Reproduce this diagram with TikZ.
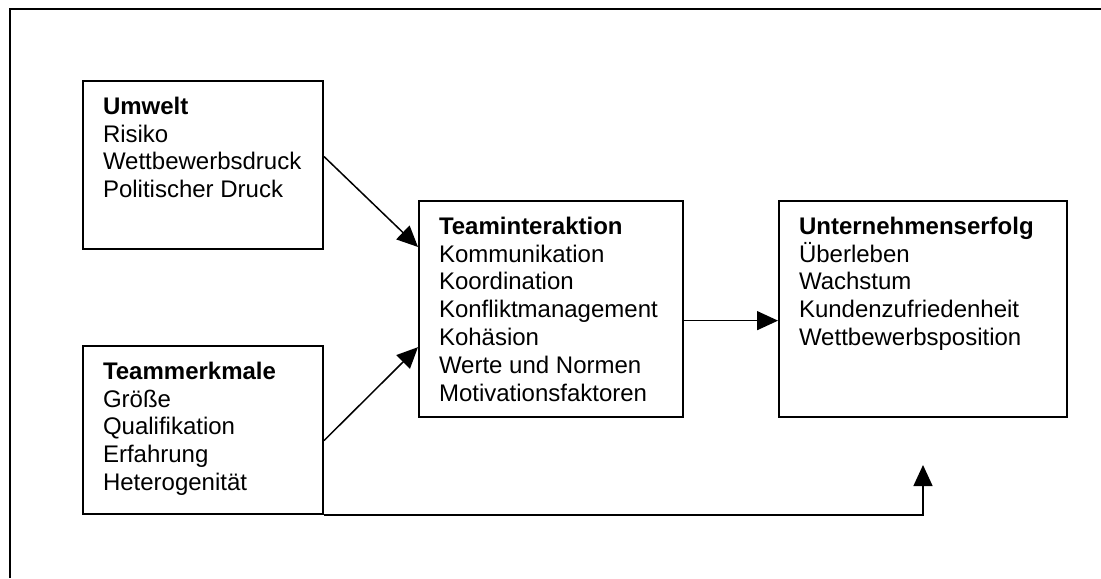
\documentclass[tikz,border=0pt]{standalone}
\usepackage{fontspec}
\setmainfont{Liberation Sans}
\usetikzlibrary{arrows.meta}

\newcommand{\feldinhalt}[3]{\parbox[t][#2][t]{#1}{\raggedright\hyphenpenalty=10000 #3}}

\tikzset{
  feld/.style={draw, line width=1pt, anchor=north west, inner xsep=10pt, inner ysep=8pt,
    font=\fontsize{12}{13.9}\selectfont},
  pfeil/.style={-{Triangle[length=10.5pt,width=9.5pt]}, line width=0.75pt}
}

\begin{document}
\begin{tikzpicture}[x=0.5pt,y=-0.5pt]
\useasboundingbox (0,0) rectangle (1101,578);

% Rahmen
\draw[line width=1pt] (10,578)--(10,9)--(1101,9);

% Kaesten
\node[feld] (umwelt) at (82,80) {\feldinhalt{100pt}{68pt}{\textbf{Umwelt}\\Risiko\\Wettbewerbsdruck\\Politischer Druck}};
\node[feld] (merkmale) at (82,345) {\feldinhalt{100pt}{68pt}{\textbf{Teammerkmale}\\Größe\\Qualifikation\\Erfahrung\\Heterogenität}};
\node[feld] (team) at (418,200) {\feldinhalt{112pt}{92pt}{\textbf{Teaminteraktion}\\Kommunikation\\Koordination\\Konfliktmanagement\\Kohäsion\\Werte und Normen\\Motivationsfaktoren}};
\node[feld] (erfolg) at (778,200) {\feldinhalt{124pt}{92pt}{\textbf{Unternehmenserfolg}\\Überleben\\Wachstum\\Kundenzufriedenheit\\Wettbewerbsposition}};

% Pfeile
\draw[pfeil] (umwelt.4.8)--(team.155.6);
\draw[pfeil] (merkmale.-5.2)--(team.196.1);
\draw[pfeil] (team.-5.6)--(team.-5.6 -| erfolg.west);
\draw[pfeil] (merkmale.south east) -| ([yshift=-23.5pt]erfolg.south);
\end{tikzpicture}
\end{document}
